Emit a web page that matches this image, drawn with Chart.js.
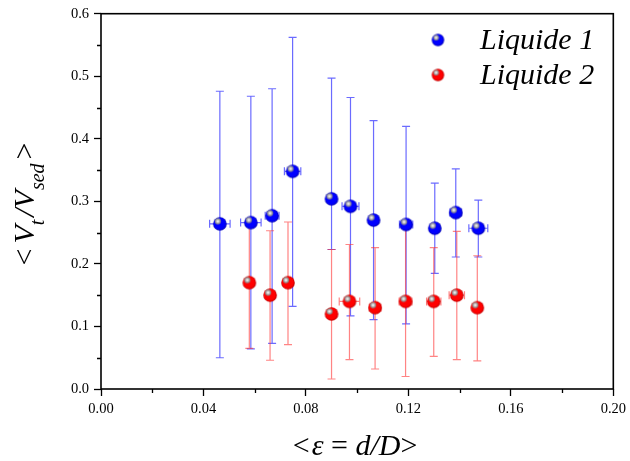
<!DOCTYPE html>
<html><head><meta charset="utf-8">
<script src="https://cdn.jsdelivr.net/npm/chart.js@4.4.0/dist/chart.umd.min.js"></script>
<style>html,body{margin:0;padding:0;background:#fff;}</style>
</head><body>
<canvas id="c" width="630" height="461"></canvas>
<script>
// ---- data ----
const eps1  = [0.0464,0.0585,0.0668,0.0748,0.0900,0.0974,0.1064,0.1191,0.1303,0.1385,0.1473];
const v1    = [0.264,0.266,0.277,0.348,0.304,0.292,0.270,0.263,0.257,0.282,0.257];
const top1  = [0.476,0.468,0.480,0.562,0.497,0.466,0.429,0.420,0.329,0.352,0.302];
const bot1  = [0.050,0.064,0.073,0.132,0.223,0.117,0.111,0.104,0.185,0.211,0.211];
const xerr1 = [0.0040,0.0040,0.0027,0.0032,0.0008,0.0033,0.0008,0.0026,0.0008,0.0023,0.0037];

const eps2  = [0.0579,0.0660,0.0730,0.0900,0.0970,0.1070,0.1189,0.1299,0.1389,0.1469];
const v2    = [0.170,0.150,0.170,0.120,0.140,0.130,0.140,0.140,0.150,0.130];
const top2  = [0.269,0.253,0.267,0.223,0.231,0.226,0.258,0.226,0.252,0.213];
const bot2  = [0.065,0.046,0.071,0.016,0.047,0.032,0.020,0.052,0.047,0.045];
const xerr2 = [0.0008,0.0008,0.0008,0.0008,0.0040,0.0023,0.0025,0.0028,0.0030,0.0008];

const seriesNames = ['Liquide 1','Liquide 2'];
const xTicksMajor = [0.00,0.04,0.08,0.12,0.16,0.20];
const yTicksMajor = [0.0,0.1,0.2,0.3,0.4,0.5,0.6];

const SERIF = '"Liberation Serif","Times New Roman",serif';

function sphere(color, dark, r){
  const c = document.createElement('canvas');
  const s = Math.ceil(2*r+2);
  c.width = s; c.height = s;
  const g = c.getContext('2d');
  const cx = s/2, cy = s/2;
  const body = g.createRadialGradient(cx-r*0.3, cy-r*0.35, r*0.2, cx, cy, r);
  body.addColorStop(0, color);
  body.addColorStop(0.75, color);
  body.addColorStop(1, dark);
  g.fillStyle = body;
  g.beginPath(); g.arc(cx, cy, r, 0, Math.PI*2); g.fill();
  const hx = cx - r*0.3, hy = cy - r*0.38;
  const hl = g.createRadialGradient(hx, hy, 0, hx, hy, r*0.55);
  hl.addColorStop(0, 'rgba(255,255,255,1)');
  hl.addColorStop(0.35, 'rgba(200,200,200,1)');
  hl.addColorStop(0.7, 'rgba(140,140,140,0.9)');
  hl.addColorStop(1, 'rgba(140,140,140,0)');
  g.fillStyle = hl;
  g.beginPath(); g.arc(hx, hy, r*0.55, 0, Math.PI*2); g.fill();
  return c;
}
const blueBall = sphere('#0000ff', '#0000b0', 6.8);
const redBall  = sphere('#ff0000', '#c00000', 6.8);
const blueLeg  = sphere('#0000ff', '#0000b0', 6.2);
const redLeg   = sphere('#ff0000', '#c00000', 6.2);

const mk = (xs, ys, tops, bots, xe) => xs.map((x,i)=>({x:x, y:ys[i], yMax:tops[i], yMin:bots[i], xErr:xe[i]}));

const errorBars = {
  id:'errorBars',
  beforeDatasetsDraw(chart){
    const ctx = chart.ctx, xs = chart.scales.x, ys = chart.scales.y;
    const cols = ['rgba(50,50,255,0.72)','rgba(255,50,50,0.6)'];
    chart.data.datasets.forEach((ds, di)=>{
      ctx.save();
      ctx.strokeStyle = cols[di];
      ctx.lineWidth = 1.2;
      ds.data.forEach(p=>{
        const px = xs.getPixelForValue(p.x);
        const py = ys.getPixelForValue(p.y);
        const t = ys.getPixelForValue(p.yMax);
        const b = ys.getPixelForValue(p.yMin);
        ctx.beginPath();
        ctx.moveTo(px, t); ctx.lineTo(px, b);
        ctx.moveTo(px-4, t); ctx.lineTo(px+4, t);
        ctx.moveTo(px-4, b); ctx.lineTo(px+4, b);
        const l = xs.getPixelForValue(p.x - p.xErr);
        const r = xs.getPixelForValue(p.x + p.xErr);
        ctx.moveTo(l, py); ctx.lineTo(r, py);
        ctx.moveTo(l, py-4); ctx.lineTo(l, py+4);
        ctx.moveTo(r, py-4); ctx.lineTo(r, py+4);
        ctx.stroke();
      });
      ctx.restore();
    });
  }
};

function drawRich(ctx, parts, x, y, align){
  // parts: [text, font, dy, extraSpacingAfter]
  let w = 0;
  parts.forEach(p=>{ ctx.font = p[1]; p.w = ctx.measureText(p[0]).width + (p[3]||0); w += p.w; });
  let cx = align==='center' ? x - w/2 : x;
  ctx.textAlign = 'left';
  parts.forEach(p=>{ ctx.font = p[1]; ctx.fillText(p[0], cx, y + (p[2]||0)); cx += p.w; });
}

const decor = {
  id:'decor',
  afterDraw(chart){
    const ctx = chart.ctx, a = chart.chartArea, xs = chart.scales.x, ys = chart.scales.y;
    ctx.save();
    // minor ticks
    ctx.strokeStyle = '#000'; ctx.lineWidth = 1.3;
    ctx.beginPath();
    for (let k=1;k<10;k+=2){ const v=k*0.02; const px = Math.round(xs.getPixelForValue(v))+0.5; ctx.moveTo(px,a.bottom); ctx.lineTo(px,a.bottom+4); }
    for (let k=1;k<12;k+=2){ const v=k*0.05; const py = Math.round(ys.getPixelForValue(v))+0.5; ctx.moveTo(a.left,py); ctx.lineTo(a.left-4,py); }
    ctx.stroke();
    // frame
    ctx.lineWidth = 1.6;
    ctx.strokeRect(a.left, a.top, a.right-a.left, a.bottom-a.top);
    // axis titles
    ctx.fillStyle = '#000';
    ctx.textBaseline = 'alphabetic';
    drawRich(ctx, [
      ['<', '30px '+SERIF, 0, 2],
      ['\u03B5', 'italic 30px '+SERIF, 0, 0],
      [' = ', '30px '+SERIF, 0, 0],
      ['d/D', 'italic 30px '+SERIF, 0, 0],
      ['>', '30px '+SERIF, 0, 0]
    ], (a.left+a.right)/2 - 2, 455, 'center');
    ctx.save();
    ctx.translate(34, 204);
    ctx.rotate(-Math.PI/2);
    drawRich(ctx, [
      ['<', '30px '+SERIF, 0, 5],
      ['V', 'italic 30px '+SERIF, 0, 0],
      ['t', 'italic 20px '+SERIF, 10, 3],
      ['/V', 'italic 30px '+SERIF, 0, 0],
      ['sed', 'italic 20px '+SERIF, 10, 4],
      ['>', '30px '+SERIF, 0, 0]
    ], 0, 0, 'center');
    ctx.restore();
    // legend
    const legs = [blueLeg, redLeg];
    const ly = [40, 75];
    seriesNames.forEach((n,i)=>{
      ctx.drawImage(legs[i], 438 - legs[i].width/2, ly[i] - legs[i].height/2);
      ctx.font = 'italic 30px '+SERIF;
      ctx.textBaseline = 'middle';
      ctx.textAlign = 'left';
      ctx.fillText(n, 480, ly[i]+1);
    });
    ctx.restore();
  }
};

new Chart(document.getElementById('c'), {
  type:'scatter',
  data:{ datasets:[
    { label:seriesNames[0], data:mk(eps1,v1,top1,bot1,xerr1), pointStyle:blueBall, pointRadius:6.8, pointHoverRadius:6.8 },
    { label:seriesNames[1], data:mk(eps2,v2,top2,bot2,xerr2), pointStyle:redBall, pointRadius:6.8, pointHoverRadius:6.8 }
  ]},
  options:{
    responsive:false, animation:false, devicePixelRatio:1,
    layout:{ padding:{ top:11, right:12, left:0, bottom:0 } },
    plugins:{ legend:{display:false}, tooltip:{enabled:false} },
    scales:{
      x:{ type:'linear', min:0, max:0.2,
        afterBuildTicks(s){ s.ticks = xTicksMajor.map(v=>({value:v})); },
        afterFit(s){ s.height = 72; },
        ticks:{ callback:v=>v.toFixed(2), font:{family:SERIF,size:14.5}, color:'#000', padding:4, maxRotation:0, autoSkip:false },
        grid:{ display:true, drawOnChartArea:false, drawTicks:true, tickLength:7, tickColor:'#000', tickWidth:1.3 },
        border:{ display:false }
      },
      y:{ type:'linear', min:0, max:0.6,
        afterBuildTicks(s){ s.ticks = yTicksMajor.map(v=>({value:v})); },
        afterFit(s){ s.width = 101; },
        ticks:{ callback:v=>v.toFixed(1), font:{family:SERIF,size:14.5}, color:'#000', padding:5, autoSkip:false },
        grid:{ display:true, drawOnChartArea:false, drawTicks:true, tickLength:7, tickColor:'#000', tickWidth:1.3 },
        border:{ display:false }
      }
    }
  },
  plugins:[errorBars, decor]
});
</script>
</body></html>
